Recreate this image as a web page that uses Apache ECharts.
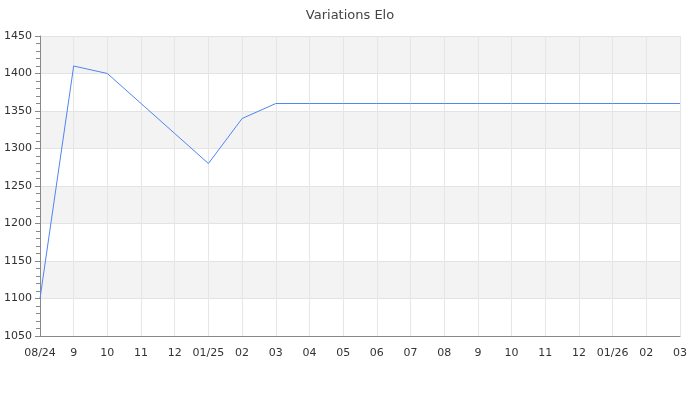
<!DOCTYPE html>
<html>
<head>
<meta charset="utf-8">
<script src="https://cdn.jsdelivr.net/npm/echarts@6/dist/echarts.min.js"></script>
<style>
  html, body { margin: 0; padding: 0; background: #fff; }
  #chart { width: 700px; height: 400px; }
</style>
</head>
<body>
<div id="chart"></div>
<script>
const months = ['08/24', '9', '10', '11', '12', '01/25', '02', '03', '04', '05',
  '06', '07', '08', '9', '10', '11', '12', '01/26', '02', '03'];
const elo = [1100, 1410, 1400, 1360, 1320, 1280, 1340, 1360, 1360, 1360,
  1360, 1360, 1360, 1360, 1360, 1360, 1360, 1360, 1360, 1360];

const chart = echarts.init(document.getElementById('chart'));

chart.setOption({
  animation: false,
  textStyle: { fontFamily: 'DejaVu Sans' },
  title: {
    text: 'Variations Elo',
    left: 'center',
    top: 4,
    textStyle: { fontSize: 13, fontWeight: 'normal', color: '#444' }
  },
  grid: { left: 40, right: 20, top: 36, bottom: 64 },
  xAxis: {
    type: 'category',
    data: months,
    boundaryGap: false,
    axisLine: { lineStyle: { color: '#888' } },
    axisTick: { show: false },
    axisLabel: { color: '#333', fontSize: 11, margin: 12, interval: 0 },
    splitLine: { show: true, lineStyle: { color: '#e6e6e6' } }
  },
  yAxis: {
    type: 'value',
    min: 1050,
    max: 1450,
    interval: 50,
    axisLine: { show: true, lineStyle: { color: '#888' } },
    axisTick: { show: true, length: 5, lineStyle: { color: '#888' } },
    minorTick: { show: true, splitNumber: 5, length: 4, lineStyle: { color: '#888' } },
    axisLabel: { color: '#333', fontSize: 11, margin: 8, formatter: (v) => String(v) },
    splitLine: { show: true, lineStyle: { color: '#e3e3e3' } },
    splitArea: { show: true, areaStyle: { color: ['#ffffff', '#f3f3f3'] } }
  },
  series: [{
    type: 'line',
    data: elo,
    symbol: 'none',
    lineStyle: { color: '#4f86f0', width: 1 }
  }]
});
</script>
</body>
</html>
